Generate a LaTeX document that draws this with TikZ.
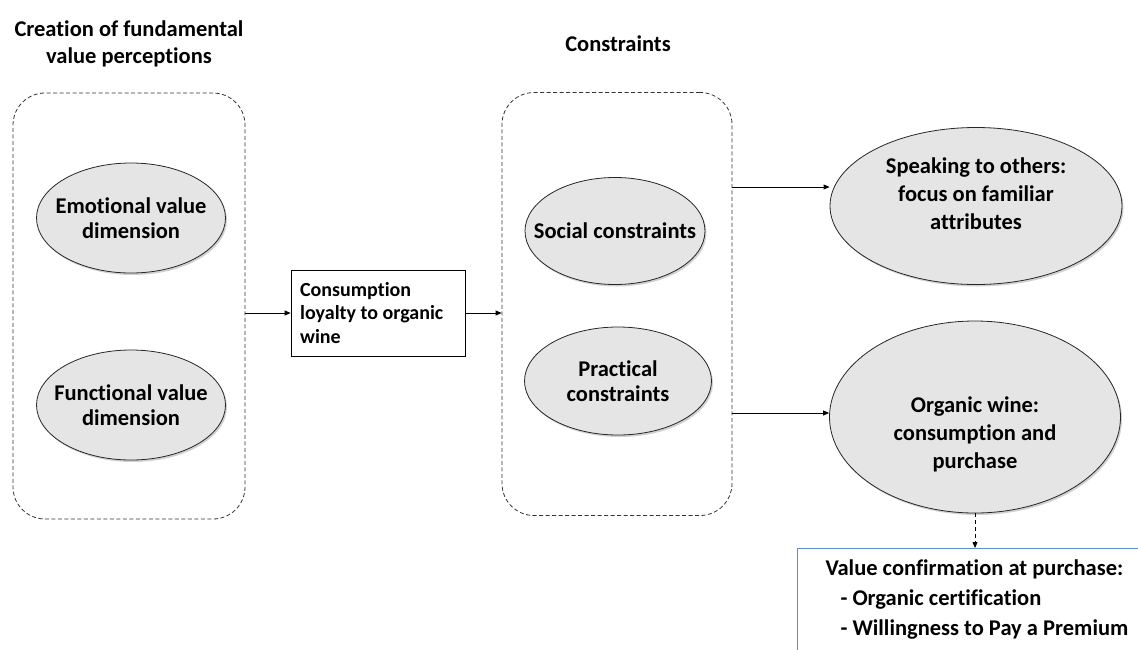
\documentclass[tikz,border=0pt]{standalone}
\usepackage{fontspec}
\setmainfont{Carlito}[Ligatures=NoCommon]
\usetikzlibrary{arrows.meta,shapes.geometric,shadows}
\definecolor{frameblue}{RGB}{95,145,200}
\begin{document}
\begin{tikzpicture}[x=1pt,y=-1pt,
  every node/.style={font=\bfseries},
  groupbox/.style={draw=black!80,line width=0.8pt,dash pattern=on 4pt off 2.5pt,rounded corners=32pt},
  oval/.style={ellipse,draw=black!85,line width=0.8pt,fill=black!10,inner sep=0pt,
    drop shadow={shadow xshift=1.5pt,shadow yshift=-2pt,opacity=0.3,fill=black!60}},
  ovaltext/.style={font=\bfseries\fontsize{22.5}{25.5}\selectfont,align=center},
  bigtext/.style={font=\bfseries\fontsize{22.5}{28}\selectfont,align=center},
  heading/.style={font=\bfseries\fontsize{22.5}{27}\selectfont,align=center},
  link/.style={-{Triangle[length=6pt,width=5pt]},line width=0.8pt},
]
\useasboundingbox (0,0) rectangle (1138,649);
\clip (0,0) rectangle (1138,649);

% column headings
\node[heading] (h1) at (129,44) {Creation of fundamental\\value perceptions};
\node[heading] (h2) at (618,44) {Constraints};

% dashed groups
\node[groupbox,minimum width=232pt,minimum height=426pt] (g1) at (129,306) {};
\node[groupbox,minimum width=230pt,minimum height=423pt] (g2) at (617,304) {};

% value dimensions
\node[oval,minimum width=189pt,minimum height=110pt] (emo) at (131,218) {};
\node[ovaltext] at (emo.center) {Emotional value\\dimension};
\node[oval,minimum width=189pt,minimum height=110pt] (fun) at (131,405) {};
\node[ovaltext] at (fun.center) {Functional value\\dimension};

% loyalty box
\node[draw=black,line width=0.8pt,minimum width=174pt,minimum height=86pt] (loy) at (378,313) {};
\node[font=\bfseries\fontsize{20}{23.5}\selectfont,align=left,anchor=west] (loyt) at ([xshift=6pt]loy.west) {Consumption\\loyalty to organic\\wine};

% constraints
\node[oval,minimum width=180pt,minimum height=107pt] (soc) at (615,231) {};
\node[ovaltext] at (soc.center) {Social constraints};
\node[oval,minimum width=187pt,minimum height=108pt] (pra) at (618,381) {};
\node[ovaltext] at (pra.center) {Practical\\constraints};

% outcomes
\node[oval,minimum width=292pt,minimum height=157pt] (spk) at (976,206) {};
\node[bigtext] at ([yshift=12pt]spk.center) {Speaking to others:\\focus on familiar\\attributes};
\node[oval,minimum width=291pt,minimum height=192pt] (org) at (975,417) {};
\node[bigtext] at ([yshift=-17pt]org.center) {Organic wine:\\consumption and\\purchase};

% value confirmation box (runs past the edge)
\node[draw=frameblue,line width=0.9pt,anchor=north west,minimum width=360pt,minimum height=120pt] (conf) at (797,548) {};
\node[font=\bfseries\fontsize{22.5}{30}\selectfont,align=left,anchor=north west] (conft) at (822,556)
  {Value confirmation at purchase:\\\hspace*{15pt}- Organic certification\\\hspace*{15pt}- Willingness to Pay a Premium};

% connectors
\draw[link] (g1.east |- loy.west) -- (loy.west);
\draw[link] (loy.east) -- (g2.west |- loy.east);
\draw[link] (g2.east |- 0,187) coordinate (s1) -- (spk.west |- s1);
\draw[link] (g2.east |- 0,413) coordinate (s2) -- (org.west |- s2);
\draw[link,dash pattern=on 4pt off 3pt] (org.south) -- (org.south |- conf.north);
\end{tikzpicture}
\end{document}
